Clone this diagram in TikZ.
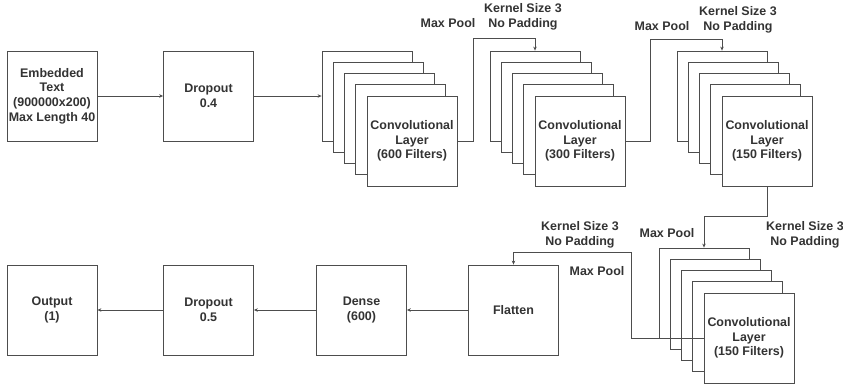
\documentclass[tikz,border=0pt]{standalone}
\usepackage{fontspec}
\setmainfont{Liberation Sans}
\usetikzlibrary{arrows.meta}
\definecolor{txt}{HTML}{333333}
\definecolor{ln}{HTML}{4D4D4D}
\begin{document}
\begin{tikzpicture}[x=1bp,y=-1bp,
  box/.style={draw=ln,fill=white,line width=0.8bp,minimum width=90bp,minimum height=90bp,inner sep=0pt,
    align=center,font=\fontsize{12.5}{14.7}\selectfont\bfseries,text=txt},
  lbl/.style={align=center,font=\fontsize{12.5}{14.5}\selectfont\bfseries,text=txt,inner sep=0pt},
  conn/.style={draw=ln,line width=0.8bp,-{Stealth[length=4bp,width=3.5bp]}}]
\useasboundingbox (0,0) rectangle (843,385);
% top row
\node[box] (emb) at (52,96) {Embedded\\Text\\(900000x200)\\Max Length 40};
\node[box] (dropa) at (208.5,96) {Dropout\\0.4};
% stack 1
\foreach \i/\n in {0/a,1/b,2/c,3/d}{
  \node[box] (s1\n) at ({367+11.25*\i},{96+11.25*\i}) {};}
\node[box] (s1e) at (412,141) {Convolutional\\Layer\\(600 Filters)};
% stack 2
\foreach \i/\n in {0/a,1/b,2/c,3/d}{
  \node[box] (s2\n) at ({535+11.25*\i},{96+11.25*\i}) {};}
\node[box] (s2e) at (580,141) {Convolutional\\Layer\\(300 Filters)};
% stack 3
\foreach \i/\n in {0/a,1/b,2/c,3/d}{
  \node[box] (s3\n) at ({722+11.25*\i},{96+11.25*\i}) {};}
\node[box] (s3e) at (767,141) {Convolutional\\Layer\\(150 Filters)};
% stack 4
\foreach \i/\n in {0/a,1/b,2/c,3/d}{
  \node[box] (s4\n) at ({704+11.25*\i},{293+11.25*\i}) {};}
\node[box] (s4e) at (749,338) {Convolutional\\Layer\\(150 Filters)};
% bottom row
\node[box] (flat) at (513.5,310) {Flatten};
\node[box] (dense) at (361.5,310) {Dense\\(600)};
\node[box] (dropb) at (208.5,310) {Dropout\\0.5};
\node[box] (out) at (52,310) {Output\\(1)};
% connectors
\draw[conn] (emb.east) -- (dropa.west);
\draw[conn] (dropa.east) -- (s1a.west);
\draw[conn] (s1e.east) -- ++(16,0) |- ([yshift=12bp]s2a.north) -- (s2a.north);
\draw[conn] (s2e.east) -- ++(25,0) |- ([yshift=11bp]s3a.north) -- (s3a.north);
\draw[conn] (s3e.south) -- ++(0,30) -| (s4a.north);
\draw[conn] (s4e.west) -- ++(-72,0) |- ([yshift=12bp]flat.north) -- (flat.north);
\draw[conn] (flat.west) -- (dense.east);
\draw[conn] (dense.west) -- (dropb.east);
\draw[conn] (dropb.west) -- (out.east);
% labels
\node[lbl] (mp1) at (448,23) {Max Pool};
\node[lbl] (ks1) at (523,17) {Kernel Size 3\\No Padding};
\node[lbl] (mp2) at (662,26) {Max Pool};
\node[lbl] (ks2) at (738,20) {Kernel Size 3\\No Padding};
\node[lbl] (mp3) at (667,233) {Max Pool};
\node[lbl] (ks3) at (805,235) {Kernel Size 3\\No Padding};
\node[lbl] (ks4) at (580,235) {Kernel Size 3\\No Padding};
\node[lbl] (mp4) at (597,271) {Max Pool};
\end{tikzpicture}
\end{document}
